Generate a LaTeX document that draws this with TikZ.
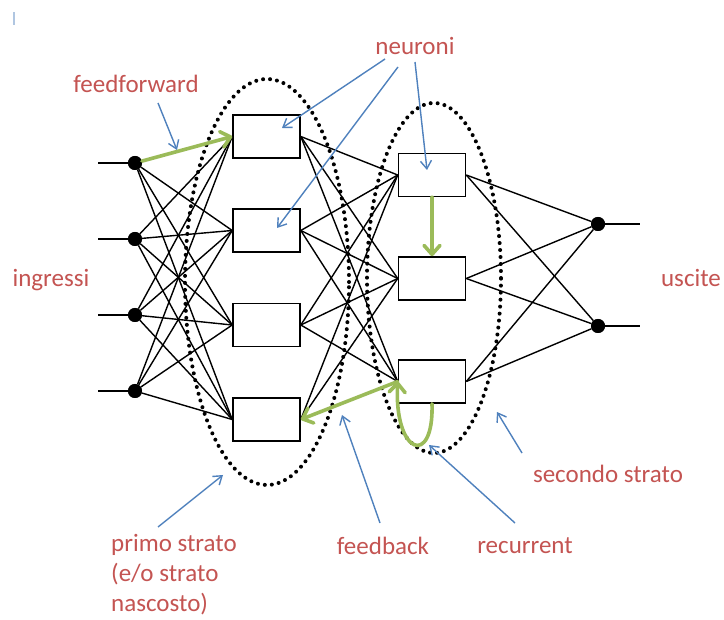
\documentclass[tikz,border=0pt]{standalone}
\usepackage{fontspec}
\setmainfont{Carlito}
\usetikzlibrary{arrows.meta}

\definecolor{labelred}{RGB}{196,84,82}
\definecolor{notblue}{RGB}{79,129,189}
\definecolor{linkgreen}{RGB}{155,187,89}

\tikzset{
  neuron/.style={draw, line width=1.6pt, fill=white, minimum width=67pt, minimum height=43pt, inner sep=0pt},
  terminal/.style={circle, fill=black, minimum size=14pt, inner sep=0pt},
  wire/.style={line width=1.4pt},
  layerring/.style={line width=4pt, line cap=round, dash pattern=on 0pt off 7pt},
  label/.style={text=labelred, font=\fontsize{25}{30}\selectfont, inner sep=0pt},
  pointer/.style={draw=notblue, line width=1.4pt, -{Straight Barb[length=8pt,width=11pt,line width=1.4pt]}},
  link/.style={draw=linkgreen, line width=3.6pt, line cap=round, -{Straight Barb[length=9pt,width=16pt,line width=3.6pt,round]}}
}

\begin{document}
\begin{tikzpicture}[x=1pt,y=-1pt]
\useasboundingbox (0,0) rectangle (724,620);
\fill[white] (0,0) rectangle (724,620);

% small mark in the corner
\fill[notblue!45] (13,12) rectangle (15,25);

% layer rings
\draw[layerring] (267,282) ellipse [x radius=82pt, y radius=203pt];
\draw[layerring] (434,278) ellipse [x radius=67pt, y radius=175pt];

% inputs
\node[terminal] (in1) at (135,163) {};
\node[terminal] (in2) at (135,239) {};
\node[terminal] (in3) at (135,315) {};
\node[terminal] (in4) at (135,391) {};
\coordinate (s1) at (98,163);
\coordinate (s2) at (98,239);
\coordinate (s3) at (98,315);
\coordinate (s4) at (98,391);

% first layer
\node[neuron] (h1) at (266.5,136.5) {};
\node[neuron] (h2) at (266.5,230.5) {};
\node[neuron] (h3) at (266.5,325) {};
\node[neuron] (h4) at (266.5,419.5) {};

% second layer
\node[neuron] (r1) at (432,175) {};
\node[neuron] (r2) at (432,278.5) {};
\node[neuron] (r3) at (432,381.5) {};

% outputs
\node[terminal] (out1) at (598,224) {};
\node[terminal] (out2) at (598,326) {};
\coordinate (t1) at (640,224);
\coordinate (t2) at (640,326);

% connections
\foreach \i in {1,...,4} {
  \draw[wire] (s\i) -- (in\i);
  \foreach \j in {1,...,4} {
    \draw[wire] (in\i) -- (h\j.west);
  }
  \foreach \k in {1,2,3} {
    \draw[wire] (h\i.east) -- (r\k.west);
  }
}
\foreach \k in {1,2,3} {
  \draw[wire] (r\k.east) -- (out1);
  \draw[wire] (r\k.east) -- (out2);
}
\draw[wire] (out1) -- (t1);
\draw[wire] (out2) -- (t2);

% redraw terminals above the wires
\foreach \n in {in1,in2,in3,in4,out1,out2} { \fill (\n) circle (7pt); }

% highlighted links
\draw[link] (in1) -- (h1.west);
\draw[link] (r1.south) -- (r2.north);
\draw[link] (r3.west) -- (h4.east);
\draw[link] (r3.south) .. controls (434,468) and (394,455) .. (r3.west);

% labels
\node[label, anchor=base] (lff) at (136,93) {feedforward};
\node[label, anchor=base] (lneu) at (415,55) {neuroni};
\node[label, anchor=base] (lin) at (51,287) {ingressi};
\node[label, anchor=base] (lout) at (691,287) {uscite};
\node[label, anchor=base] (lsec) at (608,483) {secondo strato};
\node[label, anchor=base] (lrec) at (525,554) {recurrent};
\node[label, anchor=base] (lfb) at (383,555) {feedback};
\node[label, anchor=base west, align=left] (lprim) at (111,612) {primo strato\\(e/o strato\\nascosto)};

% annotation arrows
\coordinate (a1) at (158,103);  \coordinate (b1) at (177,150);
\coordinate (a2) at (385,59);   \coordinate (b2) at (282,128);
\coordinate (a3) at (398,67);   \coordinate (b3) at (277,228);
\coordinate (a4) at (415,62);   \coordinate (b4) at (427,170);
\coordinate (a5) at (158,527);  \coordinate (b5) at (223,475);
\coordinate (a6) at (380,523);  \coordinate (b6) at (342,415);
\coordinate (a7) at (515,523);  \coordinate (b7) at (429,445);
\coordinate (a8) at (522,453);  \coordinate (b8) at (497,412);
\foreach \p in {1,...,8} { \draw[pointer] (a\p) -- (b\p); }
\end{tikzpicture}
\end{document}
